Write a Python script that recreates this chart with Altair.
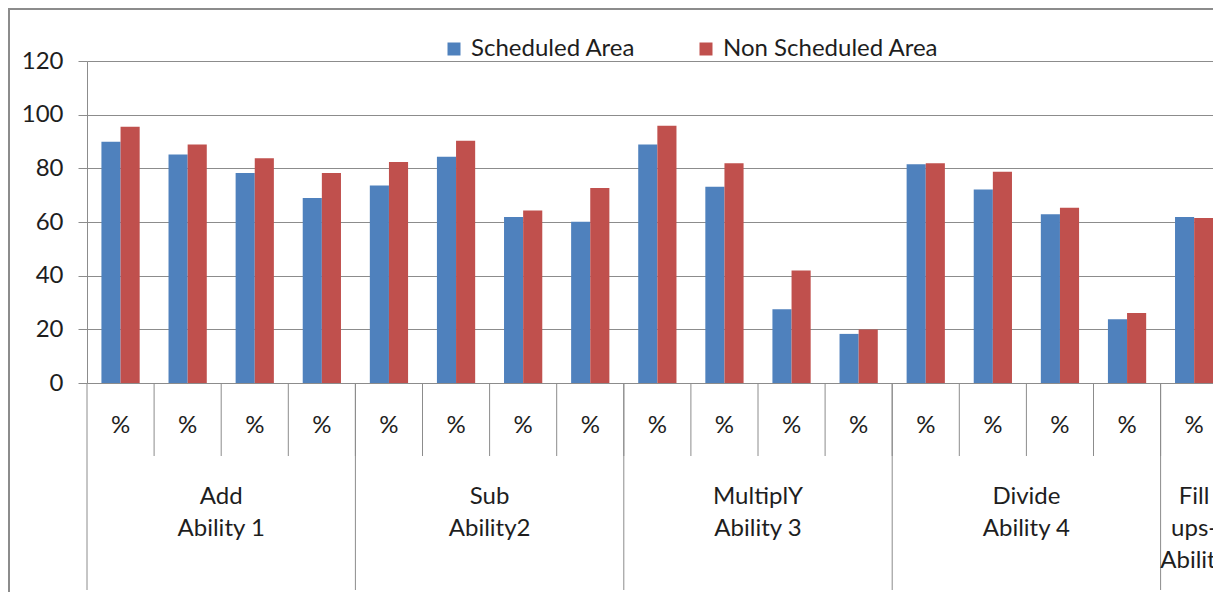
import altair as alt
import pandas as pd

# ---- data ----
group_labels = ["Add\nAbility 1", "Sub\nAbility2", "MultiplY\nAbility 3", "Divide\nAbility 4", "Fill\nups-\nAbility"]
group_sizes = [4, 4, 4, 4, 1]
category_labels = ["%"] * 17
scheduled = [89.9, 85.2, 78.3, 68.9, 73.6, 84.3, 61.9, 60.1, 88.9, 73.1, 27.5, 18.3, 81.5, 72.1, 62.9, 23.8, 61.9]
non_scheduled = [95.5, 88.9, 83.8, 78.3, 82.4, 90.3, 64.3, 72.7, 95.9, 81.9, 41.9, 19.9, 81.9, 78.7, 65.3, 26.1, 61.5]
series_names = ["Scheduled Area", "Non Scheduled Area"]
series_colors = ["#4F81BD", "#C0504D"]
y_ticks = [0, 20, 40, 60, 80, 100, 120]

FONT = "Lato"
FS = 24
GRAY = "#8c8c8c"
TXT = "#1e1e1e"

# ---- tables built from the arrays ----
rows = []
for i, (a, b) in enumerate(zip(scheduled, non_scheduled)):
    rows.append({"idx": i, "series": series_names[0], "value": a})
    rows.append({"idx": i, "series": series_names[1], "value": b})
bars_df = pd.DataFrame(rows)

cats_df = pd.DataFrame({"idx": list(range(len(category_labels))), "label": category_labels})

g_rows = []
start = 0
for lab, n in zip(group_labels, group_sizes):
    g_rows.append({"start": start, "size": n, "label": lab})
    start += n
groups_df = pd.DataFrame(g_rows)

small_bounds = pd.DataFrame({"b": list(range(1, len(category_labels)))})
group_bounds = pd.DataFrame({"b": sorted(set([0] + [r["start"] for r in g_rows]))})

# plot area: page x 87 -> 1213 (chart must stay inside the 1205px content box)
W, H = 1126, 322
CAT_W = 67.1
xscale = alt.Scale(domain=[0, W / CAT_W], nice=False, zero=False)
yscale = alt.Scale(domain=[0, 120], nice=False)

bars = alt.Chart(bars_df).transform_calculate(
    x0=f"datum.idx + (datum.series == '{series_names[0]}' ? 0.215 : 0.5)",
    x1=f"datum.idx + (datum.series == '{series_names[0]}' ? 0.5 : 0.785)",
).mark_bar(clip=True).encode(
    x=alt.X("x0:Q", scale=xscale, axis=None),
    x2="x1:Q",
    y=alt.Y("value:Q", scale=yscale, axis=alt.Axis(
        values=y_ticks, grid=True, gridColor=GRAY, gridWidth=1, domainColor=GRAY,
        tickColor=GRAY, tickSize=9, labelFont=FONT, labelFontSize=FS, labelColor=TXT,
        labelPadding=15, title=None)),
    y2=alt.datum(0),
    color=alt.Color("series:N", scale=alt.Scale(domain=series_names, range=series_colors),
                    legend=alt.Legend(orient="none", legendX=355, legendY=-24, direction="horizontal",
                                      title=None, symbolType="square", symbolSize=169,
                                      symbolStrokeWidth=0, labelFont=FONT, labelFontSize=FS,
                                      labelColor=TXT, labelOffset=5, columnPadding=58,
                                      labelLimit=400, padding=0)),
)

small_rules = alt.Chart(small_bounds).mark_rule(color=GRAY, strokeWidth=1).encode(
    x=alt.X("b:Q", scale=xscale), y=alt.value(H), y2=alt.value(H + 73))

group_rules = alt.Chart(group_bounds).mark_rule(color=GRAY, strokeWidth=1).encode(
    x=alt.X("b:Q", scale=xscale), y=alt.value(H), y2=alt.value(H + 207))

cat_text = alt.Chart(cats_df).transform_calculate(xc="datum.idx + 0.5").mark_text(
    font=FONT, fontSize=FS, color=TXT, baseline="middle", align="center").encode(
    x=alt.X("xc:Q", scale=xscale), y=alt.value(H + 43), text="label:N")

grp_text = alt.Chart(groups_df).transform_calculate(
    xc="datum.start + datum.size / 2").mark_text(
    font=FONT, fontSize=FS, color=TXT, baseline="top", align="center",
    lineBreak="\n", lineHeight=32).encode(
    x=alt.X("xc:Q", scale=xscale), y=alt.value(H + 102), text="label:N")

frame_left = alt.Chart(pd.DataFrame({"k": [0]})).mark_rule(color=GRAY, strokeWidth=2).encode(
    x=alt.value(-78), y=alt.value(-53), y2=alt.value(H + 240))
frame_top = alt.Chart(pd.DataFrame({"k": [0]})).mark_rule(color=GRAY, strokeWidth=2).encode(
    x=alt.value(-79), x2=alt.value(W + 5), y=alt.value(-52))

chart = alt.layer(bars, small_rules, group_rules, cat_text, grp_text, frame_left, frame_top).properties(
    width=W, height=H,
    autosize=alt.AutoSizeParams(type="none"),
    padding={"left": 79, "top": 53, "right": 0, "bottom": 209},
).configure_view(stroke=None).configure(background="white")

chart.save("out.html", embed_options={"renderer": "svg", "actions": False})
